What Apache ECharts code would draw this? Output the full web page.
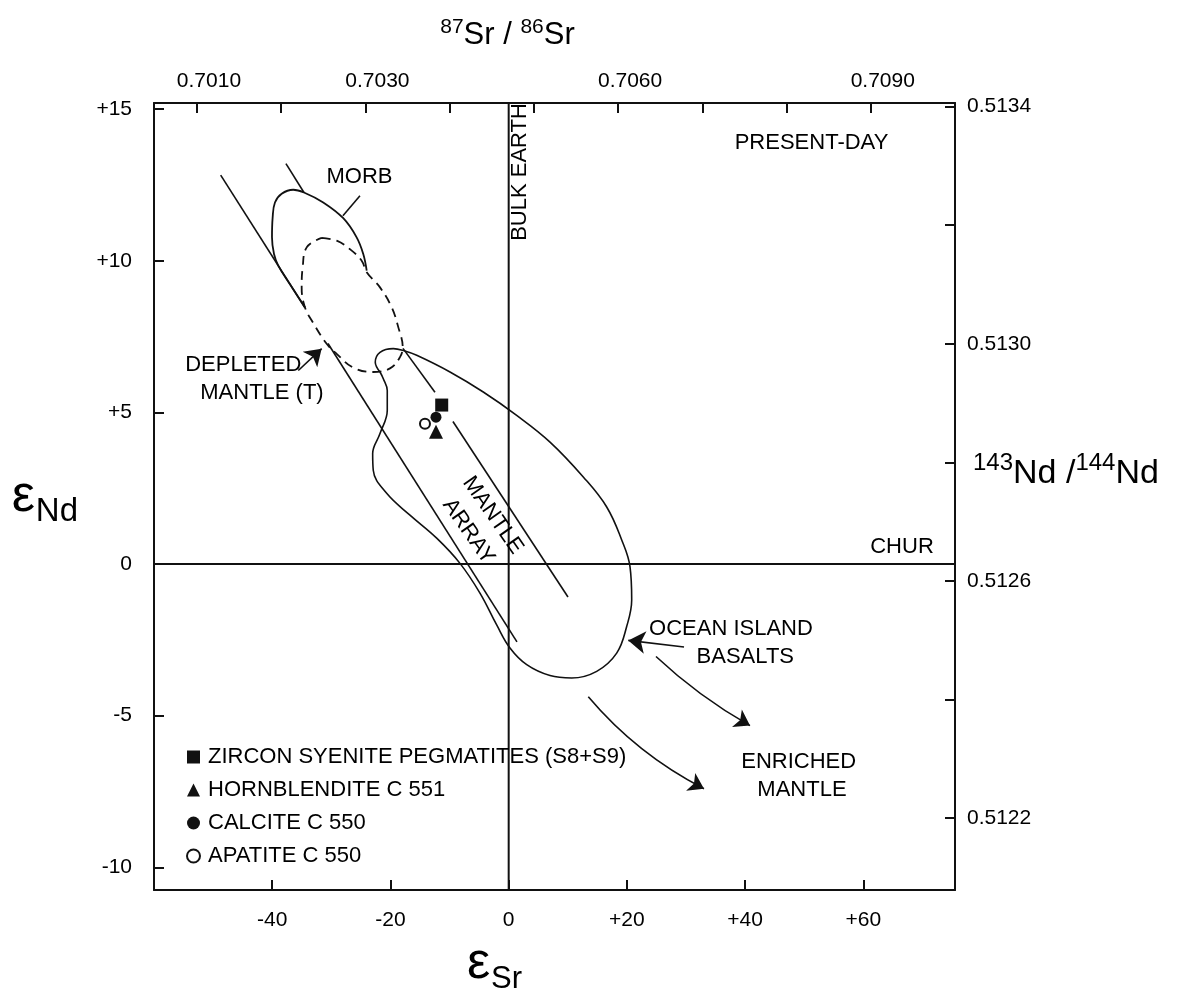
<!DOCTYPE html>
<html>
<head>
<meta charset="utf-8">
<title>Sr-Nd isotope diagram</title>
<script src="https://cdn.jsdelivr.net/npm/echarts@6/dist/echarts.min.js"></script>
<style>
  html, body { margin: 0; padding: 0; background: #fff; }
  #chart { width: 1186px; height: 992px; }
</style>
</head>
<body>
<div id="chart"></div>
<script>
// ---- data (epsilon Sr, epsilon Nd) ----
var xRange = [-60, 75.5];
var yRange = [-10.75, 15.2];
var srRange = [0.70049, 0.7100];          // top axis, 87Sr/86Sr
var ndRange = [0.512079, 0.513406];       // right axis, 143Nd/144Nd
var topLabels = ['0.7010', '0.7030', '0.7060', '0.7090'];
var rightLabels = ['0.5134', '0.5130', '0.5126', '0.5122'];

var bulkEarth = [[0, -10.75], [0, 15.2]];
var chur = [[-60, 0], [75.5, 0]];

// mantle array, two parallel lines (broken where other curves run over them)
var arrayLeftA = [[-48.72, 12.82], [-34.46, 8.45]];
var arrayLeftB = [[-30.57, 7.27], [1.40, -2.57]];
var arrayRightA = [[-37.68, 13.20], [-34.63, 12.25]];
var arrayRightB = [[-17.88, 7.11], [-12.47, 5.66]];
var arrayRightC = [[-9.43, 4.70], [10.03, -1.09]];

var morb = [[-24.02, 9.67], [-24.60, 10.22], [-25.72, 10.77], [-27.98, 11.40], [-31.37, 11.92],
  [-34.63, 12.25], [-36.44, 12.34], [-38.40, 12.21], [-39.54, 11.92], [-39.93, 11.42],
  [-40.04, 10.77], [-39.70, 10.22], [-38.98, 9.84], [-36.86, 9.18], [-34.46, 8.46]];
var morbLeader = [[-25.16, 12.14], [-28.04, 11.48]];

var depleted = [[-31.64, 10.75], [-29.10, 10.66], [-26.85, 10.38], [-24.87, 10.00], [-24.02, 9.62],
  [-21.77, 9.12], [-19.79, 8.46], [-18.68, 7.81], [-17.93, 7.15], [-18.39, 6.82], [-20.08, 6.45],
  [-22.96, 6.33], [-26.34, 6.48], [-29.10, 6.93], [-30.79, 7.26], [-33.11, 7.96], [-34.46, 8.46],
  [-35.02, 9.12], [-34.85, 9.78], [-34.17, 10.44], [-31.64, 10.75]];

var oib = [[-21.77, 6.33], [-22.57, 6.65], [-21.77, 6.98], [-19.52, 7.10], [-17.83, 7.04],
  [-15.56, 6.88], [-9.93, 6.33], [-4.30, 5.67], [1.35, 4.90], [6.99, 4.02], [12.62, 2.87],
  [16.58, 1.88], [19.12, 0.79], [20.52, -0.09], [20.81, -1.18], [19.96, -2.06], [18.27, -2.94],
  [14.89, -3.54], [10.66, -3.76], [6.99, -3.68], [3.05, -3.32], [0.22, -2.77], [-2.03, -2.01],
  [-4.86, -0.96], [-8.24, 0.02], [-12.18, 0.85], [-16.70, 1.61], [-20.64, 2.33], [-22.91, 3.09],
  [-23.01, 3.64], [-21.77, 4.30], [-20.54, 5.07], [-20.54, 5.72], [-21.21, 6.11], [-21.77, 6.33]];

var arrowDepleted = [[-35.59, 6.38], [-31.64, 7.10]];
var arrowOib = [[29.66, -2.74], [20.23, -2.52]];
var arrowEnriched1 = [[24.92, -3.05], [40.82, -5.33]];
var arrowEnriched2 = [[13.47, -4.38], [33.04, -7.41]];

var sampleNames = ['ZIRCON SYENITE PEGMATITES (S8+S9)', 'HORNBLENDITE C 551', 'CALCITE C 550', 'APATITE C 550'];
var zirconPts = [[-11.33, 5.24]];
var hornblenditePts = [[-12.30, 4.36]];
var calcitePts = [[-12.30, 4.84]];
var apatitePts = [[-14.16, 4.62]];

var noteText = ['MORB', 'PRESENT-DAY', 'BULK EARTH', 'CHUR', 'DEPLETED', 'MANTLE (T)', 'MANTLE', 'ARRAY',
  'OCEAN ISLAND', 'BASALTS', 'ENRICHED', 'MANTLE'];
var noteX = [-25.16, 51.31, 1.91, 66.62, -44.81, -41.65, -2.61, -6.72, 37.69, 40.11, 49.15, 49.70];
var noteY = [12.73, 13.88, 12.91, 0.53, 6.56, 5.63, 1.59, 1.06, -2.15, -3.08, -6.55, -7.47];
var noteRot = [0, 0, 90, 0, 0, 0, -55, -55, 0, 0, 0, 0];

// ---- chart ----
var INK = '#111';
var FONT = '"Liberation Sans", Arial, Helvetica, sans-serif';

var chart = echarts.init(document.getElementById('chart'));

function path(data, extra) {
  return Object.assign({
    type: 'line', data: data, symbol: 'none', silent: true, z: 3,
    lineStyle: { color: INK, width: 1.6 }
  }, extra || {});
}

function arrow(coords, curve, size) {
  return {
    coords: coords,
    symbolSize: size,
    lineStyle: { curveness: curve }
  };
}

function isTick(v, step) {
  return Math.abs(v / step - Math.round(v / step)) < 1e-6;
}

var axisLine = { onZero: false, lineStyle: { color: INK, width: 2 } };
var axisTick = { inside: true, length: 10, lineStyle: { color: INK, width: 2 } };
var labelStyle = { color: '#000', fontSize: 21, fontFamily: FONT };

option = {
  backgroundColor: '#fff',
  animation: false,
  textStyle: { fontFamily: FONT, color: '#000' },
  grid: { left: 154, right: 231, top: 103, bottom: 102, containLabel: false, outerBoundsMode: 'none' },
  legend: {
    data: sampleNames,
    orient: 'vertical',
    left: 186,
    top: 746,
    padding: 0,
    itemGap: 11,
    itemWidth: 13,
    itemHeight: 13,
    selectedMode: false,
    textStyle: { color: '#000', fontSize: 22, fontFamily: FONT, lineHeight: 22, padding: [0, 0, 0, 3] }
  },
  xAxis: [
    {
      type: 'value', position: 'bottom', min: xRange[0], max: xRange[1], interval: 20,
      axisLine: axisLine, axisTick: axisTick, splitLine: { show: false },
      axisLabel: Object.assign({}, labelStyle, {
        margin: 20,
        formatter: function (v) {
          if (v < -50 || v > 70) return '';
          return v > 0 ? '+' + v : String(v);
        }
      }),
      name: '{e|ε}{s|Sr}', nameLocation: 'middle', nameGap: 44, nameMoveOverlap: false,
      nameTextStyle: {
        padding: [0, 120, 0, 0],
        rich: {
          e: { fontSize: 52, lineHeight: 60, fontFamily: FONT, color: '#000' },
          s: { fontSize: 31, lineHeight: 31, padding: [30, 0, 0, 1], fontFamily: FONT, color: '#000' }
        }
      }
    },
    {
      type: 'value', position: 'top', min: srRange[0], max: srRange[1], splitNumber: 9,
      axisLine: axisLine, axisTick: axisTick, splitLine: { show: false },
      axisLabel: Object.assign({}, labelStyle, {
        margin: 11,
        padding: [0, 0, 0, 24],
        formatter: function (v) {
          var s = v.toFixed(4);
          return (isTick(v, 0.001) && topLabels.indexOf(s) >= 0) ? s : '';
        }
      }),
      name: '{p|87}{m|Sr}{m| / }{p|86}{m|Sr}', nameLocation: 'middle', nameGap: 50, nameMoveOverlap: false,
      nameTextStyle: {
        padding: [0, 94, 0, 0],
        rich: {
          p: { fontSize: 21, lineHeight: 30, padding: [0, 0, 16, 0], fontFamily: FONT, color: '#000' },
          m: { fontSize: 31, lineHeight: 36, fontFamily: FONT, color: '#000' }
        }
      }
    }
  ],
  yAxis: [
    {
      type: 'value', position: 'left', min: yRange[0], max: yRange[1], splitNumber: 5,
      axisLine: axisLine, axisTick: axisTick, splitLine: { show: false },
      axisLabel: Object.assign({}, labelStyle, {
        margin: 22,
        formatter: function (v) {
          if (!isTick(v, 5)) return '';
          return v > 0 ? '+' + v : String(v);
        }
      }),
      name: '{e|ε}{s|Nd}', nameLocation: 'middle', nameGap: 76, nameRotate: 0, nameMoveOverlap: false,
      nameTextStyle: {
        rich: {
          e: { fontSize: 52, lineHeight: 60, fontFamily: FONT, color: '#000' },
          s: { fontSize: 33, lineHeight: 33, padding: [30, 0, 0, 1], fontFamily: FONT, color: '#000' }
        }
      }
    },
    {
      type: 'value', position: 'right', min: ndRange[0], max: ndRange[1], splitNumber: 7,
      axisLine: axisLine, axisTick: axisTick, splitLine: { show: false },
      axisLabel: Object.assign({}, labelStyle, {
        margin: 12,
        formatter: function (v) {
          var s = v.toFixed(4);
          return (isTick(v, 0.0001) && rightLabels.indexOf(s) >= 0) ? s : '';
        }
      }),
      name: '{p|143}{m|Nd}{m| /}{p|144}{m|Nd}', nameLocation: 'middle', nameGap: 18, nameRotate: 0,
      nameMoveOverlap: false,
      nameTextStyle: {
        padding: [0, 0, 46, 0],
        rich: {
          p: { fontSize: 24, lineHeight: 34, padding: [0, 0, 20, 0], fontFamily: FONT, color: '#000' },
          m: { fontSize: 34, lineHeight: 40, fontFamily: FONT, color: '#000' }
        }
      }
    }
  ],
  series: [
    path(bulkEarth, { lineStyle: { color: INK, width: 2 } }),
    path(chur, { lineStyle: { color: INK, width: 2 } }),
    path(arrayLeftA), path(arrayLeftB), path(arrayRightA), path(arrayRightB), path(arrayRightC),
    path(morb, { smooth: 0.4, lineStyle: { color: INK, width: 1.8 } }),
    path(morbLeader),
    path(depleted, { smooth: 0.4, lineStyle: { color: INK, width: 1.8, type: [9, 6] } }),
    path(oib, { smooth: 0.4 }),
    {
      type: 'lines', coordinateSystem: 'cartesian2d', silent: true, z: 4,
      symbol: ['none', 'arrow'],
      lineStyle: { color: INK, width: 1.6, opacity: 1 },
      data: [
        arrow(arrowDepleted, 0, [1, 16]),
        arrow(arrowOib, 0, [1, 17]),
        arrow(arrowEnriched1, -0.06, [1, 15]),
        arrow(arrowEnriched2, -0.1, [1, 15])
      ]
    },
    {
      name: sampleNames[0], type: 'scatter', data: zirconPts, symbol: 'rect', symbolSize: 13,
      itemStyle: { color: INK, opacity: 1 }, z: 5
    },
    {
      name: sampleNames[1], type: 'scatter', data: hornblenditePts, symbol: 'triangle', symbolSize: 14,
      itemStyle: { color: INK, opacity: 1 }, z: 5
    },
    {
      name: sampleNames[2], type: 'scatter', data: calcitePts, symbol: 'circle', symbolSize: 11,
      itemStyle: { color: INK, opacity: 1 }, z: 6
    },
    {
      name: sampleNames[3], type: 'scatter', data: apatitePts, symbol: 'emptyCircle', symbolSize: 10,
      itemStyle: { color: INK, borderColor: INK, borderWidth: 1.5, opacity: 1 }, z: 5
    },
    {
      type: 'scatter', silent: true, z: 7, symbolSize: 1,
      itemStyle: { color: 'rgba(255,255,255,0)', opacity: 1 },
      label: {
        show: true, position: [0, 0], align: 'center', verticalAlign: 'middle', formatter: '{b}',
        color: '#000', fontSize: 22, fontFamily: FONT, textBorderWidth: 0, opacity: 1
      },
      data: noteText.map(function (t, i) {
        return { name: t, value: [noteX[i], noteY[i]], label: { rotate: noteRot[i] } };
      })
    }
  ]
};
chart.setOption(option);
</script>
</body>
</html>
